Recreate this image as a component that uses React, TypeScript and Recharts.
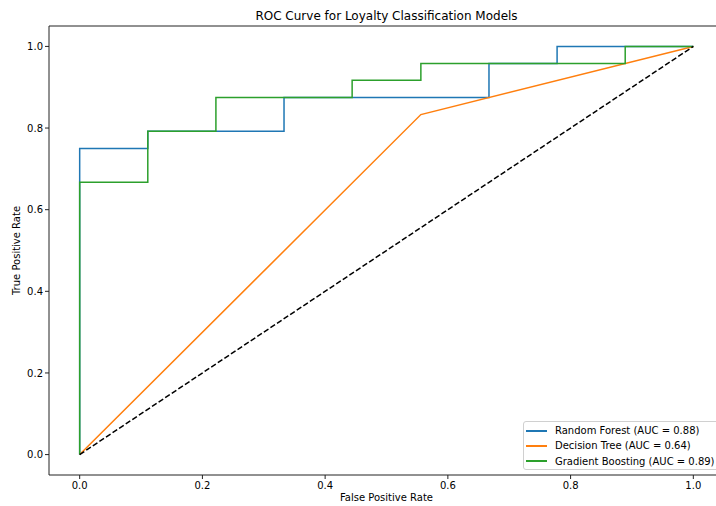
import { LineChart, Line, XAxis, YAxis, ReferenceLine } from "recharts"

// ROC points
const rfFpr = [0, 0, 0.111, 0.111, 0.333, 0.333, 0.667, 0.667, 0.778, 0.778, 1]
const rfTpr = [0, 0.75, 0.75, 0.792, 0.792, 0.875, 0.875, 0.958, 0.958, 1, 1]

const dtFpr = [0, 0.556, 1]
const dtTpr = [0, 0.833, 1]

const gbFpr = [0, 0, 0.111, 0.111, 0.222, 0.222, 0.444, 0.444, 0.556, 0.556, 0.889, 0.889, 1]
const gbTpr = [0, 0.667, 0.667, 0.792, 0.792, 0.875, 0.875, 0.917, 0.917, 0.958, 0.958, 1, 1]

const chanceFpr = [0, 1]
const chanceTpr = [0, 1]

const TICKS = [0, 0.2, 0.4, 0.6, 0.8, 1.0]

const toPoints = (fpr: number[], tpr: number[]) => fpr.map((f, i) => ({ fpr: f, tpr: tpr[i] }))

const SERIES = [
  { name: "Random Forest (AUC = 0.88)", color: "#1f77b4", data: toPoints(rfFpr, rfTpr) },
  { name: "Decision Tree (AUC = 0.64)", color: "#ff7f0e", data: toPoints(dtFpr, dtTpr) },
  { name: "Gradient Boosting (AUC = 0.89)", color: "#2ca02c", data: toPoints(gbFpr, gbTpr) },
]

const FONT = "'DejaVu Sans', sans-serif"
const tickStyle = { fontSize: 10, fill: "#000", fontFamily: FONT }

const YLabel = (props: any) => {
  const vb = props.viewBox
  const x = vb.x + 7
  const y = vb.y + vb.height / 2
  return (
    <text x={x} y={y} dy="0.35em" transform={`rotate(-90 ${x} ${y})`} textAnchor="middle"
      fontSize={10} fontFamily={FONT} fill="#000">
      True Positive Rate
    </text>
  )
}

const App = () => {
  return (
    <div style={{ position: "absolute", left: 0, top: 0, width: 716, height: 506, overflow: "hidden", background: "#fff" }}>
      <div style={{
        position: "absolute", left: 386.5, top: 9, transform: "translateX(-50%)",
        fontFamily: FONT, fontSize: 12, lineHeight: "14px", whiteSpace: "nowrap", color: "#000"
      }}>
        ROC Curve for Loyalty Classification Models
      </div>

      <LineChart width={760} height={506} margin={{ top: 26, right: 36, bottom: 0, left: 9 }}>
        <XAxis
          dataKey="fpr"
          type="number"
          domain={[-0.05, 1.05]}
          ticks={TICKS}
          tickFormatter={(v: number) => v.toFixed(1)}
          height={31}
          tickSize={4}
          tickMargin={3}
          stroke="#222"
          tick={tickStyle}
          allowDataOverflow
          label={{ value: "False Positive Rate", position: "insideBottom", offset: 5, fill: "#000", fontSize: 10, fontFamily: FONT }}
        />
        <YAxis
          type="number"
          domain={[-0.05, 1.05]}
          ticks={TICKS}
          tickFormatter={(v: number) => v.toFixed(1)}
          width={40}
          tickSize={4}
          tickMargin={2}
          stroke="#222"
          tick={tickStyle}
          allowDataOverflow
          label={<YLabel />}
        />
        {/* top spine */}
        <ReferenceLine y={1.05} stroke="#222" strokeWidth={1} />
        {SERIES.map(s => (
          <Line key={s.name} data={s.data} dataKey="tpr" type="linear" stroke={s.color} strokeWidth={1.5}
            dot={false} activeDot={false} isAnimationActive={false} />
        ))}
        <Line data={toPoints(chanceFpr, chanceTpr)} dataKey="tpr" type="linear" stroke="#000" strokeWidth={1.5}
          strokeDasharray="5.5 2.4" dot={false} activeDot={false} isAnimationActive={false} />
      </LineChart>

      <div style={{
        position: "absolute", left: 523, top: 421, width: 196, height: 49, boxSizing: "border-box",
        border: "1px solid #d0d0d0", borderRadius: 3, background: "rgba(255,255,255,0.8)",
        paddingTop: 1, fontFamily: FONT, fontSize: 10, color: "#000"
      }}>
        {SERIES.map(s => (
          <div key={s.name} style={{ display: "flex", alignItems: "center", height: 15.3, whiteSpace: "nowrap" }}>
            <span style={{ display: "inline-block", width: 21, height: 2, background: s.color, marginLeft: 2, marginRight: 8 }} />
            <span>{s.name}</span>
          </div>
        ))}
      </div>
    </div>
  )
}

export default App
